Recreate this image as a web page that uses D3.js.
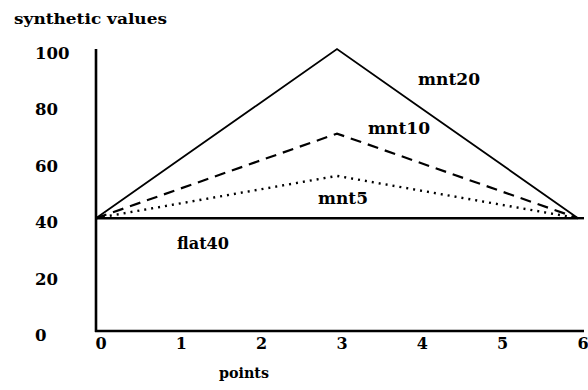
<!DOCTYPE html>
<html><head><meta charset="utf-8">
<script src="https://cdn.jsdelivr.net/npm/d3@7"></script>
<style>
html,body{margin:0;padding:0;background:#fff;}
text{font-family:"DejaVu Serif",serif;font-weight:bold;fill:#000;}
</style></head>
<body><svg id="c" width="588" height="390"></svg>
<script>
const points = [0,1,2,3,4,5,6];
const flat40 = [40,40,40,40,40,40,40];
const mnt5 = [40,45,50,55,50,45,40];
const mnt10 = [40,50,60,70,60,50,40];
const mnt20 = [40,60,80,100,80,60,40];
const yTicks = [0,20,40,60,80,100];
const xTicks = [0,1,2,3,4,5,6];

const svg = d3.select("#c");
const x = d3.scaleLinear().domain([0,6]).range([96,578]);
const y = d3.scaleLinear().domain([0,100]).range([331,49]);

svg.append("line").attr("x1",x(0)).attr("x2",x(0)).attr("y1",y(100)).attr("y2",y(0)+1)
  .attr("stroke","#000").attr("stroke-width",2.6);
svg.append("line").attr("x1",x(0)-1).attr("x2",584).attr("y1",y(0)).attr("y2",y(0))
  .attr("stroke","#000").attr("stroke-width",2.6);

svg.selectAll(".yl").data(yTicks).enter().append("text")
  .attr("x",35).attr("y",d=>y(d)+10).attr("font-size",16)
  .attr("textLength",d=>String(d).length*11.5).attr("lengthAdjust","spacingAndGlyphs")
  .text(d=>d);
svg.selectAll(".xl").data(xTicks).enter().append("text")
  .attr("x",d=>x(d)+5).attr("y",349).attr("text-anchor","middle").attr("font-size",16).text(d=>d);

svg.append("text").attr("x",14).attr("y",24).attr("font-size",15)
  .attr("textLength",153).attr("lengthAdjust","spacingAndGlyphs").text("synthetic values");
svg.append("text").attr("x",219).attr("y",378).attr("font-size",15)
  .attr("textLength",50).attr("lengthAdjust","spacingAndGlyphs").text("points");

const line = d3.line().x((d,i)=>x(points[i])).y(d=>y(d));
const series = [
  {name:"flat40", v:flat40, dash:null, w:2.4},
  {name:"mnt5", v:mnt5, dash:"2,5", w:2.4},
  {name:"mnt10", v:mnt10, dash:"11,7", w:2.2},
  {name:"mnt20", v:mnt20, dash:null, w:1.8}
];
svg.selectAll(".s").data(series).enter().append("path")
  .attr("d",d=>line(d.v)).attr("fill","none").attr("stroke","#000")
  .attr("stroke-width",d=>d.w).attr("stroke-dasharray",d=>d.dash);
svg.append("line").attr("x1",x(6)).attr("x2",584).attr("y1",y(40)).attr("y2",y(40))
  .attr("stroke","#000").attr("stroke-width",2.4);

const labels = [
  {t:"mnt20", x:418, y:85, w:62},
  {t:"mnt10", x:368, y:134, w:62},
  {t:"mnt5", x:318, y:204, w:50},
  {t:"flat40", x:177, y:249, w:52}
];
svg.selectAll(".lab").data(labels).enter().append("text")
  .attr("x",d=>d.x).attr("y",d=>d.y).attr("font-size",16)
  .attr("textLength",d=>d.w).attr("lengthAdjust","spacingAndGlyphs").text(d=>d.t);
</script></body></html>
